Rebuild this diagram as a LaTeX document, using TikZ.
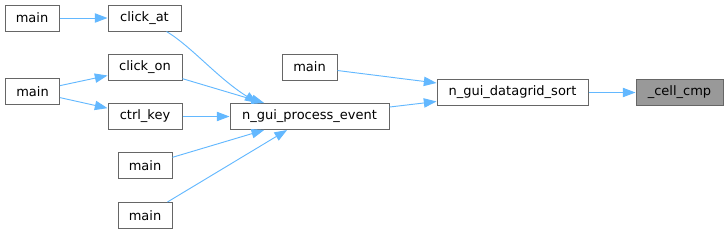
\documentclass[tikz,border=0pt]{standalone}
\usepackage{fontspec}
\setmainfont{DejaVu Sans}
\usetikzlibrary{arrows.meta,calc}
\definecolor{edgeblue}{RGB}{99,184,255}
\definecolor{boxline}{RGB}{102,102,102}
\definecolor{boxhi}{RGB}{153,153,153}
\tikzset{
  fn/.style   = {draw=boxline, fill=white, inner sep=0pt, line width=0.75pt, minimum height=19.5pt, font=\fontsize{9.75}{11}\selectfont},
  fnhi/.style = {fn, fill=boxhi},
  call/.style = {-{Triangle[length=9.5pt,width=7pt]}, draw=edgeblue, line width=0.7pt},
}

\begin{document}
\begin{tikzpicture}[x=0.75pt, y=-0.75pt]
  \useasboundingbox (0,0) rectangle (728,233);
  % callers, left column
  \node[fn, minimum width=40.5pt] (mainA) at (32,18) {main};
  \node[fn, minimum width=40.5pt] (mainB) at (32.5,91.5) {main};
  % second column
  \node[fn, minimum width=54.75pt] (clickat) at (144.5,18) {click\_at};
  \node[fn, minimum width=55.5pt] (clickon) at (145,67.5) {click\_on};
  \node[fn, minimum width=55.5pt] (ctrlkey) at (145,116.5) {ctrl\_key};
  \node[fn, minimum width=40.5pt] (mainC) at (145,165.5) {main};
  \node[fn, minimum width=40.5pt] (mainD) at (145,215.5) {main};
  % middle
  \node[fn, minimum width=41.25pt] (mainE) at (309.5,67) {main};
  \node[fn, minimum width=119.25pt] (proc) at (309.5,116.5) {n\_gui\_process\_event};
  \node[fn, minimum width=113.25pt] (sort) at (512.5,92.5) {n\_gui\_datagrid\_sort};
  \node[fnhi, minimum width=65.25pt] (cellcmp) at (679.5,92.5) {\_cell\_cmp};
  % calls
  \draw[call] (mainA) -- (clickat);
  \draw[call] (mainB) -- (clickon);
  \draw[call] (mainB) -- (ctrlkey);
  \draw[call] ($(clickat.south)+(22,0)$) .. controls +(25,15) and +(-40,-25) .. ($(proc.north west)+(28,0)$);
  \draw[call] (clickon) -- (proc);
  \draw[call] (ctrlkey) -- (proc);
  \draw[call] (mainC) -- (proc);
  \draw[call] (mainD) -- (proc);
  \draw[call] (mainE) -- (sort);
  \draw[call] (proc) -- (sort);
  \draw[call] (sort) -- (cellcmp);
\end{tikzpicture}
\end{document}
